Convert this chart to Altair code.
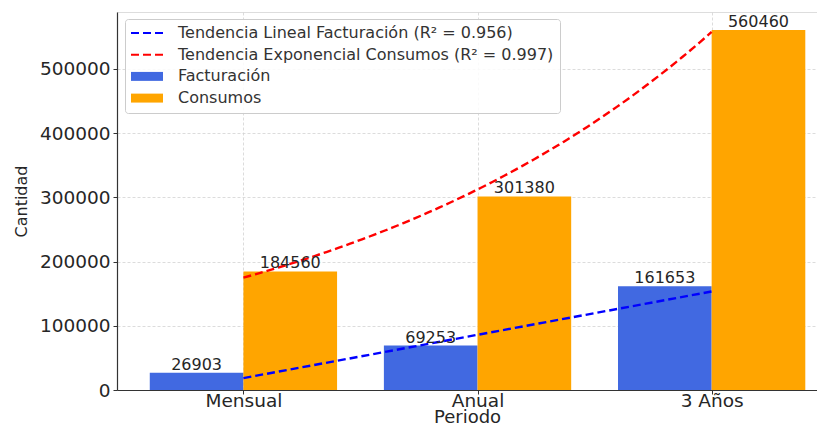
import json
import altair as alt
import numpy as np
import pandas as pd

# ---- data ----
periodos = ["Mensual", "Anual", "3 Años"]
facturacion = [26903, 69253, 161653]
consumos = [184560, 301380, 560460]
series = ["Facturación", "Consumos"]
trend_names = [
    "Tendencia Lineal Facturación (R²\u00a0=\u00a00.956)",
    "Tendencia Exponencial Consumos (R²\u00a0=\u00a00.997)",
]
y_ticks = [0, 100000, 200000, 300000, 400000, 500000]

# ---- styling ----
color_domain = trend_names + series
color_range = ["#0000FF", "#FF0000", "#4169E1", "#FFA500"]
text_color = "#262626"
axis_color = "#333333"
grid_color = "#d3d3d3"
FONT = "DejaVu Sans"

pos = np.arange(len(periodos), dtype=float)
bar_w = 0.4

bars_df = pd.DataFrame({
    "serie": [series[0]] * len(periodos) + [series[1]] * len(periodos),
    "periodo": periodos * 2,
    "valor": facturacion + consumos,
    "x0": list(pos - bar_w) + list(pos),
    "x1": list(pos) + list(pos + bar_w),
})
bars_df["xc"] = (bars_df["x0"] + bars_df["x1"]) / 2

# linear trend (least squares) for Facturación
m, c = np.polyfit(pos, np.array(facturacion, float), 1)
lin_x = np.array([pos[0], pos[-1]])
lin_df = pd.DataFrame({"serie": trend_names[0], "x": lin_x, "valor": m * lin_x + c})

# exponential trend a*exp(b x) (non-linear least squares) for Consumos
yc = np.array(consumos, float)
b, lna = np.polyfit(pos, np.log(yc), 1)
a = float(np.exp(lna))
for _ in range(200):
    e = np.exp(b * pos)
    J = np.column_stack([e, a * pos * e])
    d, *_ = np.linalg.lstsq(J, yc - a * e, rcond=None)
    a += d[0]
    b += d[1]
exp_x = np.linspace(pos[0], pos[-1], 80)
exp_df = pd.DataFrame({"serie": trend_names[1], "x": exp_x, "valor": a * np.exp(b * exp_x)})

trend_df = pd.concat([lin_df, exp_df], ignore_index=True)

y_max = max(consumos) * 1.05
x_scale = alt.Scale(domain=[-0.54, 2.45], nice=False, zero=False)
y_scale = alt.Scale(domain=[0, y_max], nice=False, zero=True)

x_axis = alt.Axis(
    values=list(pos), labelExpr=f"{json.dumps(periodos)}[round(datum.value)]",
    title="Periodo", titleFontSize=18, titleFontWeight="normal", titleColor=text_color,
    titleY=32, titleBaseline="alphabetic",
    labelFontSize=18.5, labelColor=text_color, labelPadding=-3, labelFont=FONT,
    tickSize=4, tickColor=axis_color, domainColor=axis_color, domainWidth=1.2,
    grid=True, gridDash=[3, 2], gridColor=grid_color, gridWidth=0.8,
)
y_axis = alt.Axis(
    values=y_ticks, format="d",
    title="Cantidad", titleFontSize=16, titleFontWeight="normal", titleColor=text_color,
    titleX=-91, titleBaseline="alphabetic",
    labelFontSize=18.5, labelColor=text_color, labelPadding=3, labelFont=FONT,
    tickSize=4, tickColor=axis_color, domainColor=axis_color, domainWidth=1.2,
    grid=True, gridDash=[3, 2], gridColor=grid_color, gridWidth=0.8,
)

legend = alt.Legend(
    title=None, orient="none", legendX=8, legendY=7,
    labelFontSize=16, labelColor="#333333", labelFont=FONT, labelLimit=600,
    padding=6, rowPadding=5.7, symbolSize=256, symbolOffset=8, labelOffset=23,
    strokeColor="#cccccc", fillColor="rgba(255,255,255,0.85)", cornerRadius=3,
    symbolType=alt.ExprRef("datum.index < 2 ? 'M-2,0H2' : 'M-2,-0.56H2V0.56H-2Z'"),
    symbolStrokeWidth=alt.ExprRef("datum.index < 2 ? 2 : 0"),
    symbolDash=alt.ExprRef("datum.index < 2 ? [8, 4] : [1, 0]"),
    symbolOpacity=1,
)
color = alt.Color("serie:N", scale=alt.Scale(domain=color_domain, range=color_range), legend=legend)

bars = alt.Chart(bars_df).mark_bar().encode(
    x=alt.X("x0:Q", scale=x_scale, axis=x_axis),
    x2="x1:Q",
    y=alt.Y("valor:Q", scale=y_scale, axis=y_axis),
    y2=alt.datum(0),
    color=color,
)

labels = alt.Chart(bars_df).mark_text(
    dy=-3, baseline="alphabetic", align="center", fontSize=16, font=FONT, color=text_color
).encode(
    x=alt.X("xc:Q", scale=x_scale),
    y=alt.Y("valor:Q", scale=y_scale),
    text=alt.Text("valor:Q", format="d"),
)

lines = alt.Chart(trend_df).mark_line(strokeDash=[8, 4], strokeWidth=2.4).encode(
    x=alt.X("x:Q", scale=x_scale),
    y=alt.Y("valor:Q", scale=y_scale),
    color=color,
    order="x:Q",
)

chart = alt.layer(bars, lines, labels).properties(
    width=700, height=378,
    autosize=alt.AutoSizeParams(type="none"),
    padding={"left": 109, "top": 4, "right": 0, "bottom": 34},
).configure_view(stroke=None).configure(font=FONT)

chart.save("out.html", embed_options={"renderer": "svg", "actions": False})
